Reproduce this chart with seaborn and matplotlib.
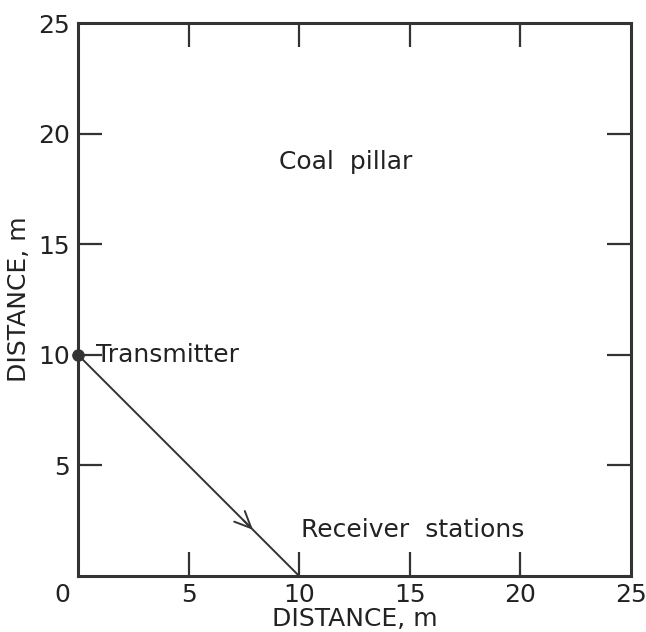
import matplotlib
matplotlib.use("Agg")
import matplotlib.pyplot as plt
import matplotlib.transforms as mtransforms
import seaborn as sns
import pandas as pd

# Ray path from the transmitter to the receiver line
path_x = [0, 10]
path_y = [10, 0]
transmitter_x = [0]
transmitter_y = [10]
arrow_tip = (8.0, 2.0)

x_ticks = [0, 5, 10, 15, 20, 25]
y_ticks = [0, 5, 10, 15, 20, 25]
y_tick_labels = ["", "5", "10", "15", "20", "25"]

sns.set_theme(style="white")
plt.rcParams["font.family"] = ["DejaVu Sans"]

ink = "#333333"
text_ink = "#222222"
fs = 18

fig = plt.figure(figsize=(6.46, 6.32), dpi=100)
ax = fig.add_axes([0.1207, 0.0886, 0.8560, 0.8750])

path = pd.DataFrame({"x": path_x, "y": path_y})
sns.lineplot(data=path, x="x", y="y", ax=ax, color=ink, linewidth=1.4,
             sort=False, estimator=None)
src = pd.DataFrame({"x": transmitter_x, "y": transmitter_y})
sns.scatterplot(data=src, x="x", y="y", ax=ax, color=ink, s=70,
                edgecolor=ink, zorder=5, clip_on=False)

# Open arrowhead showing direction of travel
ax.annotate("", xy=arrow_tip, xytext=(arrow_tip[0] - 0.6, arrow_tip[1] + 0.6),
            arrowprops=dict(arrowstyle="->,head_length=1.0,head_width=0.45",
                            color=ink, lw=1.4))

ax.plot([0.2, 0.65], [10, 10], color=ink, lw=1.4)
ax.text(0.8, 10, "Transmitter", fontsize=fs, color=text_ink,
        va="center", ha="left")
ax.text(9.1, 18.7, "Coal  pillar", fontsize=fs, color=text_ink,
        va="center", ha="left")
ax.text(10.1, 2.1, "Receiver  stations", fontsize=fs, color=text_ink,
        va="center", ha="left")

ax.set_xlim(0, 25)
ax.set_ylim(0, 25)
ax.set_xticks(x_ticks)
ax.set_xticklabels([str(v) for v in x_ticks])
ax.set_yticks(y_ticks)
ax.set_yticklabels(y_tick_labels)
ax.tick_params(axis="both", which="both", direction="in", length=17, width=1.6,
               colors=ink, labelcolor=text_ink, labelsize=fs,
               top=True, right=True, bottom=True, left=True)
ax.tick_params(axis="x", pad=5)
ax.tick_params(axis="y", pad=6)

# Ticks at the corners would only run along the frame
for axis in (ax.xaxis, ax.yaxis):
    ticks = axis.get_major_ticks()
    for t in (ticks[0], ticks[-1]):
        t.tick1line.set_visible(False)
        t.tick2line.set_visible(False)

# Corner "0" sits to the left of the origin
zero_lbl = ax.get_xticklabels()[0]
zero_lbl.set_transform(zero_lbl.get_transform() +
                       mtransforms.ScaledTranslation(-16 / 100, 0, fig.dpi_scale_trans))

for side in ["left", "right", "top", "bottom"]:
    ax.spines[side].set_visible(True)
    ax.spines[side].set_color(ink)
    ax.spines[side].set_linewidth(2.2)

ax.set_xlabel("DISTANCE, m", fontsize=fs, color=text_ink, labelpad=0)
ax.set_ylabel("DISTANCE, m", fontsize=fs, color=text_ink, labelpad=5)

fig.savefig("out.png", dpi=100, facecolor="white")
